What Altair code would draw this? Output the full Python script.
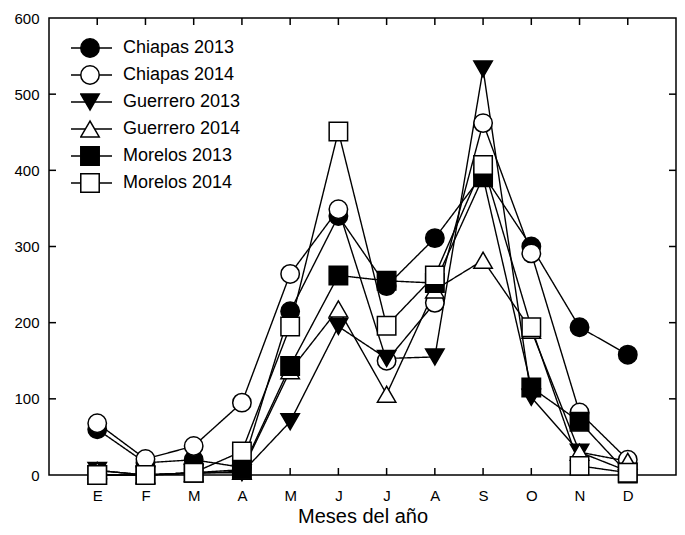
import altair as alt
import pandas as pd

months = ["E", "F", "M", "A", "M", "J", "J", "A", "S", "O", "N", "D"]
series_names = ["Chiapas 2013", "Chiapas 2014", "Guerrero 2013",
                "Guerrero 2014", "Morelos 2013", "Morelos 2014"]

chiapas_2013 = [60, 16, 20, 10, 215, 340, 248, 311, 395, 300, 194, 158]
chiapas_2014 = [68, 21, 38, 95, 264, 349, 150, 226, 462, 291, 82, 20]
guerrero_2013 = [6, 0, 3, 3, 70, 195, 153, 155, 533, 102, 30, 5]
guerrero_2014 = [6, 0, 2, 5, 137, 218, 106, 243, 282, 190, 30, 18]
morelos_2013 = [0, 0, 3, 7, 143, 262, 255, 252, 391, 115, 70, 2]
morelos_2014 = [0, 0, 3, 31, 195, 451, 196, 262, 407, 194, 12, 3]

all_series = [chiapas_2013, chiapas_2014, guerrero_2013,
              guerrero_2014, morelos_2013, morelos_2014]

fills = ["black", "white", "black", "white", "black", "white"]
shapes = ["circle", "circle", "triangle-down", "triangle-up", "square", "square"]
sizes = [340, 340, 420, 420, 300, 300]

y_label_values = [0, 100, 200, 300, 400, 500, 600]
y_tick_values = [100, 200, 300, 400, 500]
x_tick_values = list(range(1, 13))

rows = []
for name, vals in zip(series_names, all_series):
    for i, v in enumerate(vals):
        rows.append({"mes": i + 1, "valor": v, "serie": name, "serie_l": name})
df = pd.DataFrame(rows)
xt = pd.DataFrame({"mes": x_tick_values})
yt = pd.DataFrame({"valor": y_tick_values})

W, H = 627, 457
TK = 7
FONT = "Liberation Sans"
label_expr = "[" + ",".join("'" + m + "'" for m in months) + "][datum.value - 1]"

xs = alt.Scale(domain=[0, 13], nice=False, zero=False)
ys = alt.Scale(domain=[0, 600], nice=False)

x_main = alt.Axis(values=x_tick_values, labelExpr=label_expr, ticks=False, tickSize=0,
                  domain=False, grid=False, labelPadding=13, labelFont=FONT,
                  labelFontSize=15, labelColor="black", labelAngle=0,
                  title="Meses del año", titleFont=FONT, titleFontSize=20,
                  titleFontWeight="normal", titleColor="black", titlePadding=3)
y_main = alt.Axis(values=y_label_values, ticks=False, tickSize=0,
                  domain=False, grid=False, labelPadding=10, labelFont=FONT,
                  labelFontSize=15, labelColor="black", title=None)

X = lambda: alt.X("mes:Q", scale=xs, axis=x_main)
Y = lambda: alt.Y("valor:Q", scale=ys, axis=y_main)

base = alt.Chart(df)

line_legend = alt.Legend(orient="none", legendX=21, legendY=19, title=None,
                         symbolType="stroke", symbolSize=1681, symbolStrokeColor="black",
                         symbolStrokeWidth=1.5, labelExpr="''", labelFont=FONT,
                         labelFontSize=18, clipHeight=22, rowPadding=5, padding=0,
                         zindex=1)

lines = base.mark_line(color="black", strokeWidth=1.4).encode(
    x=X(), y=Y(),
    detail="serie:N",
    strokeDash=alt.StrokeDash("serie_l:N", scale=alt.Scale(range=[[1, 0]] * 6),
                              legend=line_legend),
)

marker_legend = alt.Legend(orient="none", legendX=31, legendY=19, title=None,
                           labelFont=FONT, labelFontSize=18, labelColor="black",
                           labelOffset=23, symbolStrokeWidth=1.5, symbolOpacity=1,
                           clipHeight=22, rowPadding=5, padding=0, zindex=2)

points = base.mark_point(filled=True, strokeWidth=1.5, opacity=1).encode(
    x=X(), y=Y(),
    fill=alt.Fill("serie:N", scale=alt.Scale(domain=series_names, range=fills),
                  legend=marker_legend),
    stroke=alt.Stroke("serie:N", scale=alt.Scale(domain=series_names, range=["black"] * 6),
                      legend=marker_legend),
    shape=alt.Shape("serie:N", scale=alt.Scale(domain=series_names, range=shapes),
                    legend=marker_legend),
    size=alt.Size("serie:N", scale=alt.Scale(domain=series_names, range=sizes),
                  legend=marker_legend),
)

tick_style = dict(color="black", strokeWidth=1.5)
bottom_ticks = alt.Chart(xt).mark_rule(**tick_style).encode(
    x=X(), y=alt.value(H - TK), y2=alt.value(H))
top_ticks = alt.Chart(xt).mark_rule(**tick_style).encode(
    x=X(), y=alt.value(0), y2=alt.value(TK))
left_ticks = alt.Chart(yt).mark_rule(**tick_style).encode(
    y=Y(), x=alt.value(0), x2=alt.value(TK))
right_ticks = alt.Chart(yt).mark_rule(**tick_style).encode(
    y=Y(), x=alt.value(W - TK), x2=alt.value(W))

chart = alt.layer(
    lines, bottom_ticks, top_ticks, left_ticks, right_ticks, points
).properties(
    width=W, height=H,
    autosize=alt.AutoSizeParams(type="none"),
    padding={"left": 41, "top": 10, "right": 1, "bottom": 52},
    background="white",
).configure_view(stroke="black", strokeWidth=1.5)

chart.save("out.html", embed_options={"renderer": "svg", "actions": False})
